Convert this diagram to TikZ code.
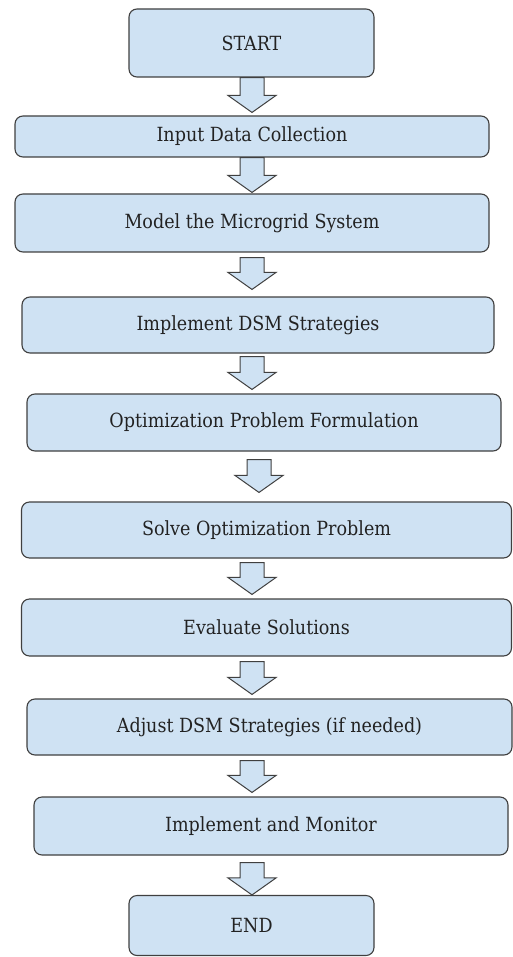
\documentclass[tikz,border=0pt]{standalone}
\usepackage{fontspec}
\setmainfont{DejaVu Serif Condensed}
\usetikzlibrary{calc}
\definecolor{boxfill}{HTML}{CFE2F3}
\definecolor{boxline}{HTML}{404040}
\definecolor{txt}{HTML}{222222}
\tikzset{
  flowbox/.style={draw=boxline, fill=boxfill, line width=1.1pt, rounded corners=8pt,
    inner sep=0pt, anchor=center, text=txt, font=\fontsize{19.5}{22}\selectfont},
  blockarrow/.style={draw=boxline, fill=boxfill, line width=1pt, line join=miter}
}
% #1 from node, #2 to node, #3 x centre, #4 gap below source, #5 gap above target
\newcommand\barrow[5]{%
  \draw[blockarrow] let \p1=(#1.south), \p2=(#2.north) in
    (#3pt-12pt,\y1-#4pt) -- (#3pt+12pt,\y1-#4pt) -- (#3pt+12pt,\y2+#5pt+17pt)
    -- (#3pt+24pt,\y2+#5pt+17pt) -- (#3pt,\y2+#5pt) -- (#3pt-24pt,\y2+#5pt+17pt)
    -- (#3pt-12pt,\y2+#5pt+17pt) -- cycle;}
\begin{document}
\begin{tikzpicture}[x=1pt,y=-1pt]
\useasboundingbox (0,0) rectangle (513,957);
\node[flowbox, minimum width=245pt, minimum height=68pt] (start) at (251.5,43) {START};
\node[flowbox, minimum width=474pt, minimum height=41pt] (input) at (252,136.5) {Input Data Collection};
\node[flowbox, minimum width=474pt, minimum height=58pt] (model) at (252,223) {Model the Microgrid System};
\node[flowbox, minimum width=472pt, minimum height=56pt] (impl) at (258,325) {Implement DSM Strategies};
\node[flowbox, minimum width=474pt, minimum height=57pt] (opt) at (264,422.5) {Optimization Problem Formulation};
\node[flowbox, minimum width=490pt, minimum height=56pt] (solve) at (266.5,530) {Solve Optimization Problem};
\node[flowbox, minimum width=490pt, minimum height=57pt] (eval) at (266.5,627.5) {Evaluate Solutions};
\node[flowbox, minimum width=485pt, minimum height=56pt] (adjust) at (269.5,727) {Adjust DSM Strategies (if needed)};
\node[flowbox, minimum width=474pt, minimum height=58pt] (mon) at (271,826) {Implement and Monitor};
\node[flowbox, minimum width=245pt, minimum height=60pt] (end) at (251.5,925.5) {END};
\barrow{start}{input}{252}{0}{3}
\barrow{input}{model}{252}{0}{1}
\barrow{model}{impl}{252}{5}{7}
\barrow{impl}{opt}{252}{3}{4}
\barrow{opt}{solve}{259}{8}{9}
\barrow{solve}{eval}{252}{4}{4}
\barrow{eval}{adjust}{252}{5}{4}
\barrow{adjust}{mon}{252}{5}{4}
\barrow{mon}{end}{252}{7}{0}
\end{tikzpicture}
\end{document}
